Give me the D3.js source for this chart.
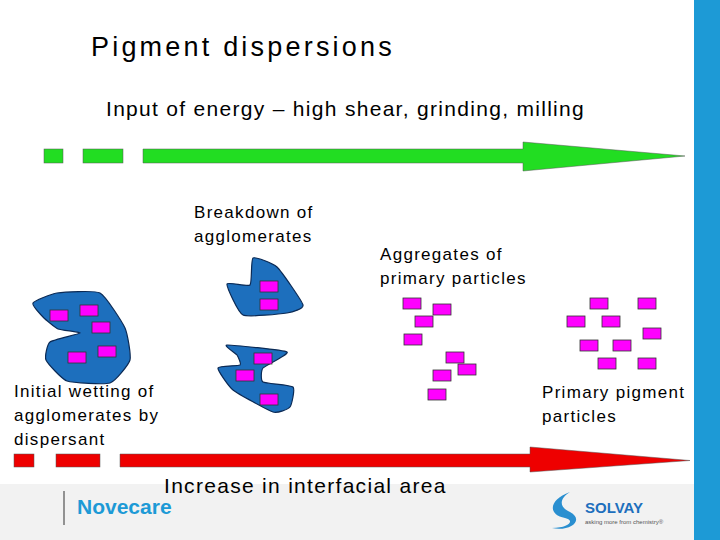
<!DOCTYPE html>
<html><head><meta charset="utf-8">
<script src="https://cdn.jsdelivr.net/npm/d3@7"></script>
<style>body{margin:0;background:#fff}text{font-family:Arial,"Liberation Sans",sans-serif;letter-spacing:1.3px}</style>
</head><body><div id="chart"></div>
<script>
// particle rectangles (top-left corners)
const wetParticles = [[50,310],[80,305],[92,322],[68,352],[98,346]];
const brokenParticles = [[260,281],[260,299],[254,353],[236,370],[260,394]];
const aggregates = [[403,298],[433,304],[415,316],[404,334],[446,352],[458,364],[433,370],[428,389]];
const primaries = [[590,298],[638,298],[567,316],[602,316],[643,328],[580,340],[613,340],[598,358],[638,358]];

// blob outlines
const blobs = [
  [[33,303],[57,293],[100,293],[125,328],[130,360],[110,383],[67,381],[46,360],[50,342],[80,333],[58,329],[43,317]],
  [[227,284],[250,285],[253,258],[277,267],[303,305],[287,313],[243,315]],
  [[227,345],[287,352],[263,368],[263,382],[293,387],[290,407],[273,412],[233,390],[218,368],[240,365],[237,355]]
];

const labels = [
  {t:["Breakdown of","agglomerates"], x:194, y:218, s:17},
  {t:["Aggregates of","primary particles"], x:380, y:260, s:17},
  {t:["Initial wetting of","agglomerates by","dispersant"], x:14, y:397, s:17},
  {t:["Primary pigment","particles"], x:542, y:398, s:17}
];

const svg = d3.select("#chart").append("svg").attr("width",720).attr("height",540);

svg.append("rect").attr("x",0).attr("y",484).attr("width",720).attr("height",56).attr("fill","#f2f2f2");
svg.append("rect").attr("x",694).attr("y",0).attr("width",26).attr("height",540).attr("fill","#1d9ad6");

svg.append("text").attr("x",91).attr("y",56).attr("font-size",27).style("letter-spacing","3.2px").text("Pigment dispersions");
svg.append("text").attr("x",106).attr("y",116).attr("font-size",21).text("Input of energy \u2013 high shear, grinding, milling");
svg.append("text").attr("x",164).attr("y",493).attr("font-size",21).text("Increase in interfacial area");

function arrow(dashes, y0, y1, headX, top, bottom, tip, color){
  dashes.forEach(d => svg.append("rect").attr("x",d[0]).attr("y",y0).attr("width",d[1]-d[0]).attr("height",y1-y0)
    .attr("fill",color).attr("stroke","#555").attr("stroke-width",0.5));
  const last = dashes[dashes.length-1];
  const mid = (y0+y1)/2;
  const pts = [[last[1],y0],[headX,y0],[headX,top],[tip,mid],[headX,bottom],[headX,y1],[last[1],y1]];
  svg.append("path").attr("d",d3.line()(pts)+"Z").attr("fill",color).attr("stroke","#555").attr("stroke-width",0.5);
}
arrow([[44,63],[83,123],[143,143]],149,163,523,142,171,685,"#22dd22");
arrow([[14,34],[56,100],[120,120]],454,467,530,447,472,690,"#ee0000");

const blobLine = d3.line().curve(d3.curveCardinalClosed.tension(0.5));
svg.selectAll(".blob").data(blobs).join("path")
  .attr("d", d => blobLine(d)).attr("fill","#1d6fbd").attr("stroke","#0b2a55").attr("stroke-width",1.2);

svg.selectAll(".p").data([].concat(wetParticles,brokenParticles,aggregates,primaries)).join("rect")
  .attr("x",d=>d[0]).attr("y",d=>d[1]).attr("width",18).attr("height",11)
  .attr("fill","#ff00ff").attr("stroke","#333").attr("stroke-width",0.8);

labels.forEach(l => l.t.forEach((line,i) =>
  svg.append("text").attr("x",l.x).attr("y",l.y+i*24).attr("font-size",l.s).text(line)));

// footer logos
svg.append("line").attr("x1",64).attr("x2",64).attr("y1",491).attr("y2",525).attr("stroke","#333");
svg.append("text").attr("x",77).attr("y",514).attr("font-size",21).attr("font-weight","bold").style("letter-spacing","0px").attr("fill","#1d9ad6").text("Novecare");
svg.append("path").attr("d","M570,492 C548,500 548,515 565,518 C575,520 570,528 552,528 C570,532 585,520 570,512 C558,507 560,498 570,492Z")
  .attr("fill","#2a8fd0");
svg.append("text").attr("x",585).attr("y",513).attr("font-size",15).attr("font-weight","bold").style("letter-spacing","0px").attr("fill","#1d6fbd").text("SOLVAY");
svg.append("text").attr("x",585).attr("y",524).attr("font-size",6).style("letter-spacing","0px").attr("fill","#555").text("asking more from chemistry\u00ae");
</script></body></html>
